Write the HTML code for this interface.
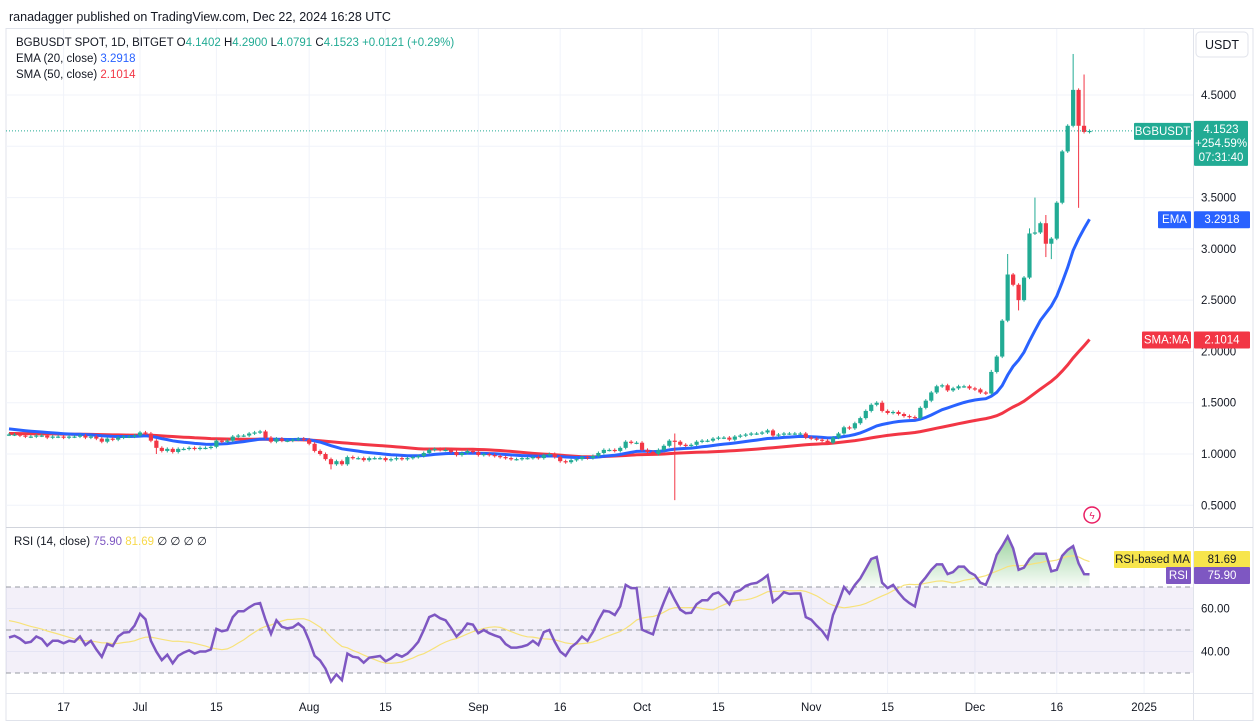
<!DOCTYPE html>
<html><head><meta charset="utf-8"><style>
body{margin:0;background:#fff;font-family:"Liberation Sans",sans-serif;}
svg{display:block}
text{font-family:"Liberation Sans",sans-serif;}
</style></head><body>
<svg id="c" width="1258" height="726" viewBox="0 0 1258 726">
<text x="9" y="21" font-size="12.5" fill="#131722">ranadagger published on TradingView.com, Dec 22, 2024 16:28 UTC</text>
<rect x="6" y="28.5" width="1247" height="692" fill="none" stroke="#e0e3eb"/>
<g id="grid"></g>
<g id="rsiBg"></g>
<g id="main"></g>
<g id="rsi"></g>
<line x1="6" y1="527.5" x2="1253" y2="527.5" stroke="#d1d4dc"/>
<line x1="1193.5" y1="29" x2="1193.5" y2="720" stroke="#e0e3eb"/>
<line x1="6" y1="693.5" x2="1253" y2="693.5" stroke="#e0e3eb"/>
<g id="axes"></g>
<g font-size="11.5">
<text x="16" y="46" fill="#131722">BGBUSDT SPOT, 1D, BITGET  O<tspan fill="#22ab94">4.1402</tspan>  H<tspan fill="#22ab94">4.2900</tspan>  L<tspan fill="#22ab94">4.0791</tspan>  C<tspan fill="#22ab94">4.1523  +0.0121 (+0.29%)</tspan></text>
<text x="16" y="62" fill="#131722">EMA (20, close)  <tspan fill="#2962ff">3.2918</tspan></text>
<text x="16" y="78" fill="#131722">SMA (50, close)  <tspan fill="#f23645">2.1014</tspan></text>
<text x="14" y="545" fill="#131722">RSI (14, close)  <tspan fill="#7e57c2">75.90</tspan>  <tspan fill="#f7d94c">81.69</tspan>  ∅  ∅  ∅  ∅</text>
</g>
<rect x="1196" y="32" width="52" height="25" rx="4" fill="#fff" stroke="#e0e3eb"/>
<text x="1222" y="49" font-size="12.5" text-anchor="middle" fill="#131722">USDT</text>
<g><circle cx="1092" cy="515" r="8" fill="none" stroke="#e91e63" stroke-width="1.5"/><text x="1092" y="519" font-size="10" text-anchor="middle" fill="#e91e63">ϟ</text></g>
<g id="tags"></g>
</svg>
<script>
const closes = [1.19,1.19,1.18,1.17,1.17,1.18,1.18,1.16,1.17,1.17,1.16,1.17,1.17,1.18,1.16,1.17,1.15,1.12,1.15,1.14,1.16,1.17,1.17,1.18,
1.21,1.20,1.13,1.06,1.03,1.05,1.02,1.05,1.05,1.06,1.05,1.06,1.06,1.07,1.13,1.12,1.13,1.17,1.18,1.18,1.20,1.21,1.22,1.16,1.12,1.15,1.13,1.13,1.14,1.15,1.14,
1.10,1.03,1.00,0.95,0.90,0.93,0.90,0.97,0.96,0.96,0.94,0.96,0.96,0.96,0.94,0.95,0.96,0.95,0.96,0.97,0.98,1.01,1.04,1.05,1.04,1.04,1.02,0.99,1.01,1.03,1.02,
0.99,1.00,0.99,0.98,0.97,0.96,0.95,0.95,0.96,0.96,0.97,0.96,0.99,1.00,0.97,0.93,0.92,0.94,0.95,0.97,0.96,0.98,1.01,1.04,1.04,1.03,1.06,1.12,1.11,1.11,
1.04,1.02,1.00,1.04,1.08,1.13,1.12,1.09,1.08,1.09,1.12,1.13,1.13,1.15,1.16,1.16,1.14,1.17,1.18,1.19,1.20,1.20,1.21,1.23,1.18,1.19,1.20,1.20,1.20,1.20,1.16,
1.15,1.14,1.13,1.11,1.16,1.20,1.26,1.25,1.30,1.35,1.42,1.48,1.50,1.42,1.40,1.41,1.39,1.37,1.36,1.35,1.45,1.52,1.60,1.66,1.67,1.62,1.64,1.66,1.66,1.64,1.63,1.60,1.59,
1.80,1.95,2.30,2.75,2.65,2.50,2.72,3.15,3.16,3.25,3.05,3.10,3.45,3.95,4.20,4.55,4.20,4.14,4.15];
const highOverrides = {122:1.20,188:3.50,190:3.33,195:4.90,197:4.70,183:2.95,187:3.20,160:1.52,180:1.82};
const lowOverrides = {122:0.55,196:3.40,59:0.85,185:2.40,190:2.92,191:2.90,27:1.00};
const rsiVals = [46.5,47.3,46,44,44.5,47,45.8,42.7,45,45,43.8,45,44.5,47,43,45,41,37.5,43.5,42.5,47,48.8,49,52,57.5,55,45,39.9,36,38.5,34.5,38,39.5,40.5,39,40,40,41,50.5,49.4,50,56,58.7,58.7,60.5,62,62.5,54.8,48.2,54.5,51.5,50.8,51.2,53,51,45,38,35.8,32,26,29.4,26.7,39,37.6,37.1,34.8,37.1,37.5,37.9,35.5,36.8,38.7,37.6,39,41.5,44.5,50,56,57.1,55.5,54.5,51,47,49.5,53,52.5,48.5,50,48.5,47.5,46.6,43.5,41.8,41.8,42.3,43,45,43,49,50,44.5,40,38,42,44,47,45,49,54.5,59,58.5,57,61,71,69.5,69.5,50.2,49,48,56.4,63,69,64,59.5,57.8,58,62,63.8,63.8,66.7,67.5,65,62,67.5,68.5,70.5,71.5,71.9,73.5,75.5,63,65,67.6,66.8,67,67,56,54.8,52,49.6,46,57,63,70,67,71,74,78.5,83,84,72,69.5,71,67.5,64.5,62.5,61,71.5,74.5,78,80.5,80.5,76,77,79.5,79.5,76.8,75.5,72,71,77,85,89,93.5,88,78,79,83,85.5,85.5,85.5,77.3,78,84.5,87.3,89,81,76,75.9];
const priceTicks = [0.5,1.0,1.5,2.0,2.5,3.0,3.5,4.5];
const rsiTicks = [40,60];
const timeLabels = ["17","Jul","15","Aug","15","Sep","16","Oct","15","Nov","15","Dec","16","2025"];
const timeLabelIdx = [10,24,38,55,69,86,101,116,130,147,161,177,192,208];
const printedValues = ["4.1523","+254.59%","07:31:40","3.2918","2.1014","81.69","75.90"];

const NS="http://www.w3.org/2000/svg";
const X = i => 9.03 + 5.457*i;
const YP = p => 454 - (p-1)*102.57;
const YR = r => 587 - (r-70)*2.15;
function mk(tag, attrs, parent){const e=document.createElementNS(NS,tag);for(const k in attrs)e.setAttribute(k,attrs[k]);parent.appendChild(e);return e;}
const grid=document.getElementById('grid'), main=document.getElementById('main'), rsi=document.getElementById('rsi'), axes=document.getElementById('axes'), tags=document.getElementById('tags'), rsiBg=document.getElementById('rsiBg');

[...priceTicks,4.0].forEach(p=>{const l=mk('line',{x1:6,x2:1193,y1:YP(p),y2:YP(p),stroke:'#f0f3fa'},grid);

});
[50,60,40].forEach(r=>{const l=mk('line',{x1:6,x2:1193,y1:YR(r),y2:YR(r),stroke:'#f0f3fa'},grid);

});
timeLabelIdx.forEach(i=>{const l=mk('line',{x1:X(i),x2:X(i),y1:29,y2:693,stroke:'#f0f3fa'},grid);

});

const band=mk('rect',{x:6,y:YR(70),width:1187,height:YR(30)-YR(70),fill:'rgba(126,87,194,0.09)'},rsiBg);


[70,50,30].forEach(r=>{const l=mk('line',{x1:6,x2:1193,y1:YR(r),y2:YR(r),stroke:'#9598a1','stroke-dasharray':'5,4','stroke-width':1},rsiBg);

});

const ema=[];let e=1.25;const k=2/21;
closes.forEach((c,i)=>{e=c*k+e*(1-k);ema.push(e);});
const sma=[];const hist=Array(50).fill(1.2);
closes.forEach(c=>{hist.push(c);hist.shift();sma.push(hist.reduce((a,b)=>a+b,0)/50);});
function pathOf(arr,fy){return arr.map((v,i)=>(i?'L':'M')+X(i).toFixed(1)+' '+fy(v).toFixed(1)).join(' ');}
const smaP=mk('path',{d:pathOf(sma,YP),fill:'none',stroke:'#f23645','stroke-width':3},main);


const emaP=mk('path',{d:pathOf(ema,YP),fill:'none',stroke:'#2962ff','stroke-width':3},main);



closes.forEach((c,i)=>{
  const o = i? closes[i-1] : c;
  const up = c>=o;
  const col = up?'#22ab94':'#f23645';
  const h = highOverrides[i]!==undefined?highOverrides[i]:Math.max(o,c)+0.015;
  const l = lowOverrides[i]!==undefined?lowOverrides[i]:Math.min(o,c)-0.015;
  const g=mk('g',{},main);
  
  
  mk('line',{x1:X(i),x2:X(i),y1:YP(h),y2:YP(l),stroke:col,'stroke-width':1},g);
  const yt=YP(Math.max(o,c)), yb=YP(Math.min(o,c));
  mk('rect',{x:X(i)-2.1,y:yt,width:4.2,height:Math.max(1.2,yb-yt),fill:col},g);
});
const last=closes[closes.length-1];
const pl=mk('line',{x1:6,x2:1193,y1:YP(last),y2:YP(last),stroke:'#22ab94','stroke-dasharray':'1,2'},main);



const rma=[];const rh=Array(14).fill(55);
rsiVals.forEach(v=>{rh.push(v);rh.shift();rma.push(rh.reduce((a,b)=>a+b,0)/14);});
let fill='';
rsiVals.forEach((v,i)=>{fill+=(i?'L':'M')+X(i).toFixed(1)+' '+Math.min(YR(v),YR(70)).toFixed(1)+' ';});
fill+='L'+X(rsiVals.length-1)+' '+YR(70)+' L'+X(0)+' '+YR(70)+' Z';
const defs=mk('defs',{},rsi);
const gr=mk('linearGradient',{id:'ob',x1:0,y1:0,x2:0,y2:1},defs);
mk('stop',{offset:'0','stop-color':'rgba(76,175,80,0.55)'},gr);
mk('stop',{offset:'1','stop-color':'rgba(76,175,80,0.03)'},gr);
const obf=mk('path',{d:fill,fill:'url(#ob)'},rsi);


const rmaP=mk('path',{d:pathOf(rma,YR),fill:'none',stroke:'#f7e27a','stroke-width':1.2},rsi);


const rsiP=mk('path',{d:pathOf(rsiVals,YR),fill:'none',stroke:'#7e57c2','stroke-width':2.5},rsi);



priceTicks.forEach(p=>{const t=mk('text',{x:1201,y:YP(p)+4,'font-size':11.5,fill:'#131722'},axes);t.textContent=p.toFixed(4);

});
rsiTicks.forEach(r=>{const t=mk('text',{x:1201,y:YR(r)+4,'font-size':11.5,fill:'#131722'},axes);t.textContent=r.toFixed(2);

});
timeLabels.forEach((s,j)=>{const t=mk('text',{x:X(timeLabelIdx[j]),y:711,'font-size':11.5,fill:'#131722','text-anchor':'middle'},axes);t.textContent=s;

});

function tag(x,y,w,h,bg,fg,lines,name){const g=mk('g',{},tags);


mk('rect',{x:x,y:y,width:w,height:h,fill:bg,rx:1},g);
lines.forEach((s,i)=>{const t=mk('text',{x:x+w/2,y:y+12+i*14,'font-size':11.5,fill:fg,'text-anchor':'middle'},g);t.textContent=s;});}
const yl=YP(last);
tag(1134,yl-8,57,17,'#22ab94','#fff',['BGBUSDT'],'symbol-tag');
tag(1194,yl-10,54,45,'#22ab94','#fff',printedValues.slice(0,3),'last-price-tag');
const ye=YP(ema[ema.length-1]);
tag(1158,ye-8,33,17,'#2962ff','#fff',['EMA'],'ema-tag');
tag(1194,ye-8,56,17,'#2962ff','#fff',[printedValues[3]],'ema-value-tag');
const ys=YP(sma[sma.length-1]);
tag(1142,ys-8,49,17,'#f23645','#fff',['SMA:MA'],'sma-tag');
tag(1194,ys-8,56,17,'#f23645','#fff',[printedValues[4]],'sma-value-tag');
tag(1114,551,77,17,'#f7e54c','#131722',['RSI-based MA'],'rsi-ma-tag');
tag(1194,551,56,17,'#f7e54c','#131722',[printedValues[5]],'rsi-ma-value-tag');
tag(1166,567,25,17,'#7e57c2','#fff',['RSI'],'rsi-tag');
tag(1194,567,56,17,'#7e57c2','#fff',[printedValues[6]],'rsi-value-tag');
</script>
</body></html>
